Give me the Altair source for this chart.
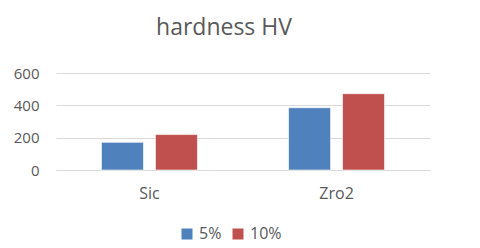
import altair as alt
import pandas as pd

categories = ["Sic", "Zro2"]
series = ["5%", "10%"]
values_5 = [171, 385]
values_10 = [219, 472]

rows = []
for i, c in enumerate(categories):
    rows.append({"cat": c, "series": "5%", "value": values_5[i]})
    rows.append({"cat": c, "series": "10%", "value": values_10[i]})
df = pd.DataFrame(rows)

font = "Open Sans"
txt = "#595959"

chart = alt.Chart(df).mark_bar(stroke="white", strokeWidth=0.6).encode(
    x=alt.X("cat:N", sort=categories, title=None,
            scale=alt.Scale(paddingInner=0.487, paddingOuter=0.243),
            axis=alt.Axis(labelAngle=0, ticks=False, domain=True, domainColor="#d9d9d9",
                          labelFontSize=16, labelColor=txt, labelFont=font, labelPadding=15)),
    xOffset=alt.XOffset("series:N", sort=series, scale=alt.Scale(paddingInner=0.222, paddingOuter=0)),
    y=alt.Y("value:Q", title=None,
            scale=alt.Scale(domain=[0, 600], nice=False),
            axis=alt.Axis(values=[0, 200, 400, 600], ticks=False, domain=False,
                          gridColor="#d9d9d9", labelFontSize=15, labelColor=txt,
                          labelFont=font, labelPadding=17)),
    color=alt.Color("series:N", sort=series,
                    scale=alt.Scale(domain=series, range=["#4F81BD", "#C0504D"]),
                    legend=alt.Legend(title=None, orient="none", direction="horizontal",
                                      legendX=123, legendY=153, padding=0,
                                      symbolType="square", symbolSize=121,
                                      symbolStrokeWidth=0, labelOffset=4, labelLimit=200,
                                      labelFontSize=16, labelColor=txt, labelFont=font,
                                      columnPadding=8)),
).properties(
    width=374, height=97,
    title=alt.TitleParams("hardness HV", fontSize=23, font=font, color=txt,
                          fontWeight="normal", anchor="middle", dx=-19, offset=26),
    autosize=alt.AutoSizeParams(type="none"),
    padding={"left": 48, "top": 65, "right": 42, "bottom": 74},
).configure_view(stroke=None)

chart.save("out.html", embed_options={"renderer": "svg", "actions": False})
